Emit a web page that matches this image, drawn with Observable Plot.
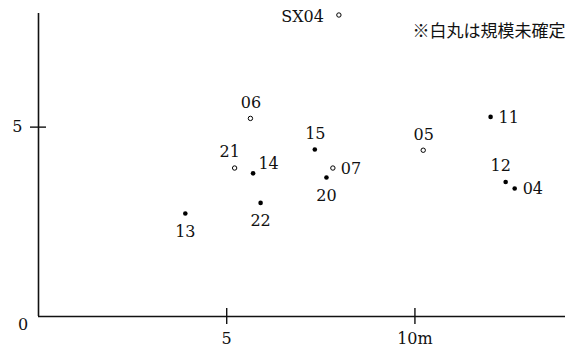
<!DOCTYPE html>
<html>
<head>
<meta charset="utf-8">
<script src="https://cdn.jsdelivr.net/npm/d3@7"></script>
<script src="https://cdn.jsdelivr.net/npm/@observablehq/plot@0.6"></script>
<style>
  html, body { margin: 0; padding: 0; background: #fff; }
  #chart { width: 576px; height: 347px; }
</style>
</head>
<body>
<div id="chart"></div>
<script>
// ---- data ----
const ids       = ["13", "22", "14", "21", "06", "15", "07", "20", "05", "11", "12", "04", "SX04"];
const xs        = [3.90, 5.90, 5.70, 5.21, 5.63, 7.34, 7.82, 7.65, 10.22, 12.01, 12.41, 12.65, 7.98];
const ys        = [2.72, 3.00, 3.78, 3.92, 5.23, 4.41, 3.92, 3.67, 4.39, 5.27, 3.55, 3.38, 7.96];
// true = white circle (size undetermined)
const undetermined = [false, false, false, true, true, false, true, false, true, false, false, false, true];
// label side relative to the point
const labelSide = ["s", "s", "ne", "nw", "n", "n", "e", "s", "n", "e", "nw", "e", "w"];

const xTicks = [5, 10];
const xTickLabels = ["5", "10m"];
const yTicks = [5];
const yTickLabels = ["5"];
const originLabel = "0";
const note = "※白丸は規模未確定";

// ---- build ----
const data = ids.map((id, i) => ({id, x: xs[i], y: ys[i], open: undetermined[i], side: labelSide[i]}));
const xLabelMap = new Map(xTicks.map((t, i) => [t, xTickLabels[i]]));
const yLabelMap = new Map(yTicks.map((t, i) => [t, yTickLabels[i]]));

const serif = "'DejaVu Serif', 'Liberation Serif', serif";
const fs = 16;

const sides = {
  s:  {dx: 0,    dy: 18,    textAnchor: "middle"},
  n:  {dx: 0.5,  dy: -15.5, textAnchor: "middle"},
  e:  {dx: 8,    dy: 0.5,   textAnchor: "start"},
  ne: {dx: 15.5, dy: -9,    textAnchor: "middle"},
  nw: {dx: -5,   dy: -16,   textAnchor: "middle"},
  w:  {dx: -15,  dy: 2,     textAnchor: "end"}
};

const labelMarks = Object.entries(sides).map(([k, o]) =>
  Plot.text(data.filter(d => d.side === k), {
    x: "x", y: "y", text: "id",
    dx: o.dx, dy: o.dy, textAnchor: o.textAnchor, lineAnchor: "middle",
    fontSize: fs, fontFamily: serif, fill: "#111"
  })
);

const chart = Plot.plot({
  width: 576,
  height: 347,
  marginLeft: 38,
  marginRight: 11,
  marginTop: 13,
  marginBottom: 31,
  style: {background: "#fff", color: "#111", fontFamily: serif},
  x: {domain: [0, 14], axis: null, label: null},
  y: {domain: [0, 8], axis: null, label: null},
  marks: [
    Plot.ruleX([0], {stroke: "#111", strokeWidth: 1.6}),
    Plot.ruleY([0], {stroke: "#111", strokeWidth: 1.6}),
    Plot.axisX(xTicks, {
      anchor: "bottom", label: null, tickSize: 16, dy: -8, tickPadding: 8,
      tickFormat: d => xLabelMap.get(d),
      fontSize: fs, fontFamily: serif, stroke: "#111", strokeWidth: 1.4
    }),
    Plot.axisY(yTicks, {
      anchor: "left", label: null, tickSize: 16, dx: 8, tickPadding: 8,
      tickFormat: d => yLabelMap.get(d),
      fontSize: fs, fontFamily: serif, stroke: "#111", strokeWidth: 1.4
    }),
    Plot.text([originLabel], {
      x: () => 0, y: () => 0, text: d => d, lineAnchor: "middle",
      dx: -15.5, dy: 8, fontSize: fs, fontFamily: serif, fill: "#111"
    }),
    Plot.dot(data.filter(d => !d.open), {x: "x", y: "y", r: 2.3, fill: "#000", stroke: "none"}),
    Plot.dot(data.filter(d => d.open), {x: "x", y: "y", r: 2.2, fill: "#fff", stroke: "#000", strokeWidth: 1}),
    ...labelMarks,
    Plot.text([note], {
      frameAnchor: "top-right", text: d => d, textAnchor: "end", lineAnchor: "middle",
      dy: 18.5, fontSize: 17, fontFamily: "'Noto Sans CJK JP', sans-serif", fill: "#111"
    })
  ]
});

document.getElementById("chart").appendChild(chart);
</script>
</body>
</html>
